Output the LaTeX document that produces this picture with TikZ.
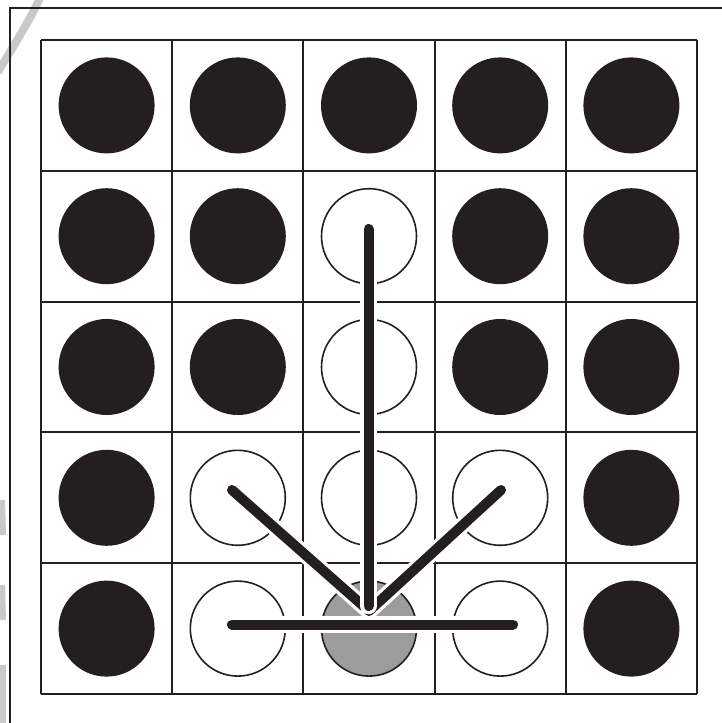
\documentclass[tikz,border=0pt]{standalone}
\begin{document}
\begin{tikzpicture}[x=1pt,y=-1pt,
  dot/.style={circle,inner sep=0pt,minimum size=96pt,fill=ink,draw=none},
  hollow/.style={circle,inner sep=0pt,minimum size=95pt,fill=white,draw=ink,line width=1.6pt},
  greydot/.style={circle,inner sep=0pt,minimum size=95pt,fill=pebble,draw=ink,line width=1.6pt},
  halo/.style={white,line width=16.5pt},
  bar/.style={ink,line width=10pt},
  gridline/.style={ink,line width=2pt},
  faintmark/.style={faint,line width=8pt}]
\definecolor{ink}{HTML}{231F20}
\definecolor{pebble}{HTML}{9C9C9C}
\definecolor{faint}{HTML}{C9C9C9}
\useasboundingbox[fill=white] (0,0) rectangle (721,723);
% faint background marks
\draw[faintmark] (40,-2) .. controls (30,20) and (14,45) .. (-2,72);
\draw[faintmark,line width=6pt] (2,500) -- (3,535);
\draw[faintmark,line width=6pt] (2,585) -- (3,620);
\draw[faintmark,line width=6pt] (3,665) -- (3,723);
% outer border
\draw[ink,line width=1.3pt] (10,730) |- (730,8);
% circles
\foreach \c/\xx in {1/106.6,2/237.8,3/369,4/500.2,5/631.4}{
  \foreach \r/\yy in {1/105.4,2/236.2,3/367,4/497.8,5/628.6}{
    \coordinate (p-\r-\c) at (\xx,\yy);
  }
}
\foreach \r/\c in {1/1,1/2,1/3,1/4,1/5,2/1,2/2,2/4,2/5,3/1,3/2,3/4,3/5,4/1,4/5,5/1,5/5}{
  \node[dot] (c-\r-\c) at (p-\r-\c) {};
}
\foreach \r/\c in {2/3,3/3,4/2,4/3,4/4,5/2,5/4}{
  \node[hollow] (c-\r-\c) at (p-\r-\c) {};
}
\node[greydot] (c-5-3) at (p-5-3) {};
% grid
\foreach \xx in {41,172.2,303.4,434.6,565.8,697}{
  \draw[gridline] (\xx,40) -- (\xx,694);
}
\foreach \yy in {40,170.8,301.6,432.4,563.2,694}{
  \draw[gridline] (41,\yy) -- (697,\yy);
}
% moves
\coordinate (hub) at (369,611);
\coordinate (vtop) at (368.5,229);
\coordinate (dl) at (232,490);
\coordinate (dr) at (501,490);
\coordinate (hl) at (232,624.5);
\coordinate (hr) at (513,624.5);
\coordinate (hubv) at (368.5,606);
\draw[halo,line cap=round] (dl) -- (hub);
\draw[bar,line cap=round] (dl) -- (hub);
\draw[halo,line cap=round] (dr) -- (hub);
\draw[bar,line cap=round] (dr) -- (hub);
\draw[halo,line cap=round] (vtop) -- (hubv);
\draw[bar,line cap=round] (vtop) -- (hubv);
\draw[halo,line cap=round] (hl) -- (hr);
\draw[bar,line cap=round] (hl) -- (hr);
\end{tikzpicture}
\end{document}
